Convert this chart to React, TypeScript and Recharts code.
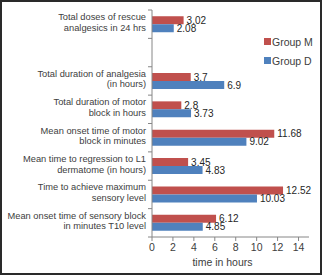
import { BarChart, Bar, XAxis, YAxis, Legend, LabelList } from "recharts";

const categories = [
  "Total doses of rescue\nanalgesics in 24 hrs",
  " ",
  "Total duration of analgesia\n(in hours)",
  "Total duration of motor\nblock in hours",
  "Mean onset time of motor\nblock in minutes",
  "Mean time to regression to L1\ndermatome (in hours)",
  "Time to achieve maximum\nsensory level",
  "Mean onset time of sensory block\nin minutes T10 level",
];
const seriesNames = ["Group M", "Group D"];
const groupM = [3.02, null, 3.7, 2.8, 11.68, 3.45, 12.52, 6.12];
const groupD = [2.08, null, 6.9, 3.73, 9.02, 4.83, 10.03, 4.85];
const xTicks = [0, 2, 4, 6, 8, 10, 12, 14];

const rows = categories.map((name, i) => ({
  name,
  groupM: groupM[i],
  groupD: groupD[i],
}));

const W = 322;
const H = 275;
const TOP = 10;
const BOTTOM_AXIS = 38;
const PLOT_H = H - TOP - BOTTOM_AXIS;
const FONT = "'Liberation Sans', Arial, sans-serif";
const AXIS_COLOR = "#868686";
const TEXT_COLOR = "#404040";

const CategoryTick = (props: any) => {
  const { x, y, payload, index } = props;
  const lines = String(payload.value).split("\n");
  const band = PLOT_H / rows.length;
  const ax = x + 6;
  return (
    <g>
      <line x1={ax - 4} x2={ax} y1={y - band / 2} y2={y - band / 2} stroke={AXIS_COLOR} />
      {index === rows.length - 1 && (
        <line x1={ax - 4} x2={ax} y1={y + band / 2} y2={y + band / 2} stroke={AXIS_COLOR} />
      )}
      <text x={x} y={y} textAnchor="end" fontSize={9.3} fill={TEXT_COLOR} fontFamily={FONT}>
        {lines.map((l, i) => (
          <tspan key={i} x={x} dy={i === 0 ? -4 : 10.5}>
            {l}
          </tspan>
        ))}
      </text>
    </g>
  );
};

// legend drawn as a column, in series order
const renderLegend = ({ payload }: any) => {
  const items = [...(payload || [])].sort(
    (a: any, b: any) => seriesNames.indexOf(a.value) - seriesNames.indexOf(b.value)
  );
  return (
    <div style={{ fontFamily: FONT, fontSize: 10.5, color: TEXT_COLOR }}>
      {items.map((entry: any) => (
        <div key={entry.value} style={{ display: "flex", alignItems: "center", height: 19 }}>
          <span style={{ width: 7, height: 7, background: entry.color, marginRight: 1, display: "inline-block" }} />
          <span>{entry.value}</span>
        </div>
      ))}
    </div>
  );
};

export default function App() {
  return (
    <div style={{ position: "absolute", left: 0, top: 0, width: W, height: H, background: "#fff" }}>
      <BarChart
        width={W}
        height={H}
        data={rows}
        layout="vertical"
        margin={{ top: TOP, right: 13, bottom: 0, left: 0 }}
        barCategoryGap="22%"
        barGap={0}
      >
        <XAxis
          type="number"
          domain={[0, 15]}
          ticks={xTicks}
          height={BOTTOM_AXIS}
          stroke={AXIS_COLOR}
          tickSize={4}
          tickMargin={3}
          tick={{ fill: TEXT_COLOR, fontSize: 10.5, fontFamily: FONT }}
          label={{
            value: "time in hours",
            position: "insideBottom",
            offset: 9,
            dx: -8,
            fill: TEXT_COLOR,
            fontSize: 10.5,
            fontFamily: FONT,
          }}
        />
        <YAxis
          type="category"
          dataKey="name"
          width={152}
          stroke={AXIS_COLOR}
          tickLine={false}
          tickSize={0}
          tickMargin={6}
          interval={0}
          tick={<CategoryTick />}
        />
        <Legend
          layout="horizontal"
          verticalAlign="middle"
          align="center"
          wrapperStyle={{ top: 32, left: 264, width: 58 }}
          content={renderLegend}
        />
        <Bar dataKey="groupM" name={seriesNames[0]} fill="#C0504D" isAnimationActive={false}>
          <LabelList dataKey="groupM" position="right" offset={3} fontSize={10} fill="#262626" fontFamily={FONT} />
        </Bar>
        <Bar dataKey="groupD" name={seriesNames[1]} fill="#4F81BD" isAnimationActive={false}>
          <LabelList dataKey="groupD" position="right" offset={3} fontSize={10} fill="#262626" fontFamily={FONT} />
        </Bar>
      </BarChart>
      <div
        style={{
          position: "absolute",
          left: 0,
          top: 0,
          width: W,
          height: H,
          boxSizing: "border-box",
          border: "2px solid #2a2a2a",
          pointerEvents: "none",
        }}
      />
    </div>
  );
}
